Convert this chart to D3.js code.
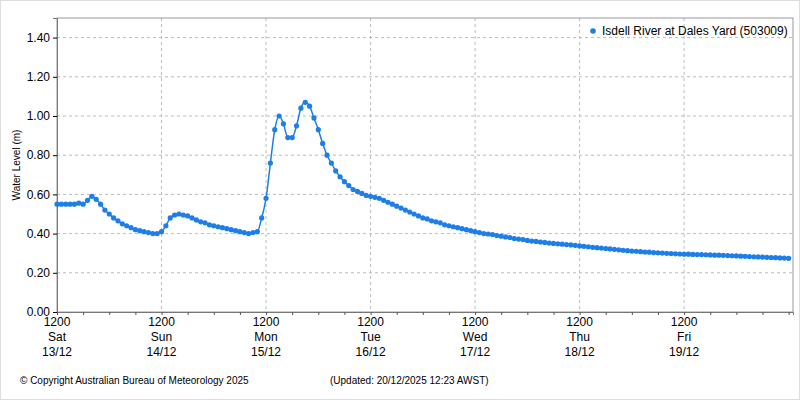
<!DOCTYPE html>
<html><head><meta charset="utf-8">
<script src="https://cdn.jsdelivr.net/npm/d3@7"></script>
<style>body{margin:0;background:#fff}text{font-family:"Liberation Sans",sans-serif}</style>
</head><body><svg id="c" width="800" height="400"></svg>
<script>
const startTime = "2025-12-13T12:00";
const levels = [.55,.55,.55,.55,.55,.555,.55,.57,.59,.575,.55,.52,.50,.48,.465,.45,.44,.43,.42,.415,.41,.405,.40,.40,
.41,.44,.48,.495,.50,.495,.49,.48,.47,.46,.455,.445,.44,.435,.43,.425,.42,.415,.41,.405,.40,.405,.41,.48,
.58,.76,.93,1.00,.96,.89,.89,.95,1.04,1.07,1.05,.99,.93,.86,.80,.76,.72,.69,.665,.645,.625,.615,.605,.595,
.59,.585,.58,.57,.56,.55,.54,.53,.52,.51,.50,.49,.48,.475,.465,.46,.455,.445,.44,.435,.43,.425,.42,.415,
.41,.405,.40,.398,.395,.39,.387,.383,.38,.375,.372,.37,.365,.362,.36,.357,.355,.352,.35,.348,.346,.344,.342,.34,
.337,.335,.333,.33,.328,.326,.324,.322,.32,.317,.315,.313,.311,.31,.308,.306,.305,.303,.302,.30,.299,.298,.297,.296,
.295,.295,.294,.293,.293,.292,.291,.29,.29,.289,.288,.287,.286,.285,.284,.283,.282,.281,.28,.279,.278,.277,.276,.275,.274];
const yTicks = [0,0.2,0.4,0.6,0.8,1.0,1.2,1.4];
const dayNames = ["Sat","Sun","Mon","Tue","Wed","Thu","Fri"];
const dayDates = ["13/12","14/12","15/12","16/12","17/12","18/12","19/12"];
const seriesName = "Isdell River at Dales Yard (503009)";

const t0 = new Date(startTime);
const H = 3600e3;
const data = levels.map((v,i)=>({t:new Date(+t0+i*H), v}));
const svg = d3.select("#c");
const L=57,R=793,T=18,B=312;
const x = d3.scaleTime().domain([t0, new Date(+t0+169*H)]).range([L,R]);
const y = d3.scaleLinear().domain([0,1.5]).range([B,T]);
svg.append("rect").attr("x",0.5).attr("y",0.5).attr("width",799).attr("height",399).attr("fill","none").attr("stroke","#ddd");
const g = svg.append("g");
const dayT = dayNames.map((d,i)=>new Date(+t0+i*24*H));
g.selectAll(".gy").data(yTicks.slice(1)).join("line").attr("x1",L).attr("x2",R).attr("y1",d=>y(d)).attr("y2",d=>y(d))
 .attr("stroke","#bbb").attr("stroke-dasharray","3,3");
g.selectAll(".gx").data(dayT.slice(1)).join("line").attr("x1",d=>x(d)).attr("x2",d=>x(d)).attr("y1",T).attr("y2",B)
 .attr("stroke","#bbb").attr("stroke-dasharray","3,3");
svg.append("rect").attr("x",L).attr("y",T).attr("width",R-L).attr("height",B-T).attr("fill","none").attr("stroke","#999");
const ya = svg.append("g").attr("transform",`translate(${L},0)`).call(d3.axisLeft(y).tickValues(yTicks).tickFormat(d3.format(".2f")).tickSize(4));
ya.selectAll("text").attr("font-size",12).attr("fill","#000").attr("dy","0.3em");
ya.select(".domain").attr("stroke","#777");
const minor = d3.range(0,169,6).map(h=>new Date(+t0+h*H));
const xa = svg.append("g").attr("transform",`translate(0,${B})`).call(d3.axisBottom(x).tickValues(minor).tickFormat("").tickSize(3));
xa.select(".domain").attr("stroke","#777");
xa.selectAll("line").attr("stroke","#555");
const lab = svg.append("g").selectAll("text").data(dayT).join("text").attr("text-anchor","middle").attr("font-size",12).attr("fill","#000");
lab.each(function(d,i){const s=d3.select(this);
 ["1200",dayNames[i],dayDates[i]].forEach((t,k)=>s.append("tspan").attr("x",x(d)).attr("y",B+14+k*15).text(t));});
svg.append("text").attr("transform","translate(20,165) rotate(-90)").attr("text-anchor","middle").attr("font-size",10)
 .attr("font-family","DejaVu Sans Mono").text("Water Level (m)");
const col="#1e7ee8";
svg.append("path").datum(data).attr("fill","none").attr("stroke",col).attr("stroke-width",1.5)
 .attr("d",d3.line().x(d=>x(d.t)).y(d=>y(d.v)).curve(d3.curveMonotoneX));
svg.append("g").selectAll("circle").data(data).join("circle").attr("cx",d=>x(d.t)).attr("cy",d=>y(d.v)).attr("r",2.6).attr("fill",col);
svg.append("circle").attr("cx",593).attr("cy",31).attr("r",2.8).attr("fill",col);
svg.append("text").attr("x",602).attr("y",35).attr("font-size",12).text(seriesName);
svg.append("text").attr("x",20).attr("y",384).attr("font-size",10).text("© Copyright Australian Bureau of Meteorology 2025");
svg.append("text").attr("x",330).attr("y",384).attr("font-size",10).text("(Updated: 20/12/2025 12:23 AWST)");
</script></body></html>
